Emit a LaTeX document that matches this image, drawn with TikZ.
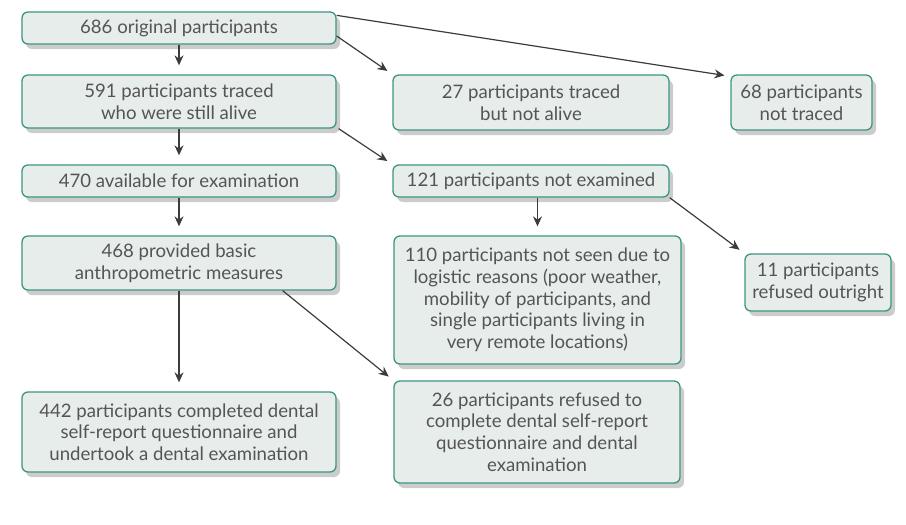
\documentclass[tikz,border=0pt]{standalone}
\usepackage{fontspec}
\setmainfont{Lato}
\usepackage{tikz}
\usetikzlibrary{arrows.meta}
\usetikzlibrary{shadows}
\usetikzlibrary{positioning}
\definecolor{boxfill}{HTML}{E7EDEA}
\definecolor{boxline}{HTML}{3E9484}
\definecolor{txtgrey}{HTML}{555555}
\definecolor{arrowgrey}{HTML}{3C3C3C}
\tikzset{
    stagebox/.style={draw=boxline, fill=boxfill, line width=1.3pt, rounded corners=6pt,
        align=center, text=txtgrey, inner sep=0pt, font=\fontsize{18.6}{21.7}\selectfont,
        drop shadow={shadow xshift=4pt, shadow yshift=-5pt, fill=black, opacity=0.2}},
    flowarrow/.style={draw=arrowgrey, line width=1.2pt, -{Stealth[length=10pt,width=9pt]}, shorten >=9pt},
    sidearrow/.style={flowarrow, shorten >=6pt},
}

\begin{document}
\begin{tikzpicture}[x=1pt,y=-1pt]
        \useasboundingbox (0,0) rectangle (906,525);
        \node[stagebox, minimum width=314, minimum height=32] (n686) at (179,28) {686 original participants};
        \node[stagebox, minimum width=314, minimum height=53] (n591) at (179,101.5) {591 participants traced\\who were still alive};
        \node[stagebox, minimum width=276, minimum height=55] (n27) at (531,102.5) {27 participants traced\\but not alive};
        \node[stagebox, minimum width=141, minimum height=55] (n68) at (801.5,102.5) {68 participants\\not traced};
        \node[stagebox, minimum width=314, minimum height=32] (n470) at (179,181) {470 available for examination};
        \node[stagebox, minimum width=276, minimum height=32] (n121) at (531,181) {121 participants not examined};
        \node[stagebox, minimum width=314, minimum height=54] (n468) at (179,263) {468 provided basic\\anthropometric measures};
        \node[stagebox, minimum width=287, minimum height=128] (n110) at (537.5,300) {110 participants not seen due to\\logistic reasons (poor weather,\\mobility of participants, and\\single participants living in\\very remote locations)};
        \node[stagebox, minimum width=146, minimum height=57] (n11) at (818,282.5) {11 participants\\refused outright};
        \node[stagebox, minimum width=314, minimum height=80] (n442) at (179,432) {442 participants completed dental\\self-report questionnaire and\\undertook a dental examination};
        \node[stagebox, minimum width=286, minimum height=102] (n26) at (537,432) {26 participants refused to\\complete dental self-report\\questionnaire and dental\\examination};
        \draw[flowarrow] (n686.south) -- (n591.north);
        \draw[flowarrow] (n591.south) -- (n470.north);
        \draw[flowarrow] (n470.south) -- (n468.north);
        \draw[flowarrow] (n468.south) -- (n442.north);
        \draw[flowarrow] (n121.south -| n110.north) -- (n110.north);
        \draw[sidearrow] ([yshift=-4pt]n686.north east) -- ([yshift=-2pt]n68.north west);
        \draw[sidearrow] ([yshift=-8pt]n686.east) -- (n27.north west);
        \draw[sidearrow] ([xshift=2pt]n591.south east) -- (n121.north west);
        \draw[sidearrow] (n121.south east) -- (n11.north west);
        \draw[sidearrow] ([xshift=-54pt]n468.south east) -- (n26.north west);
\end{tikzpicture}
\end{document}
